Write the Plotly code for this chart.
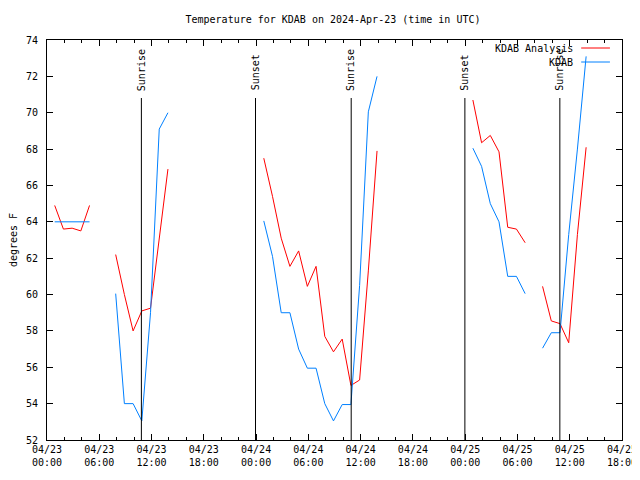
import plotly.graph_objects as go

# ---- data ----
times = [
    "2024-04-23 00:53", "2024-04-23 01:53", "2024-04-23 02:53", "2024-04-23 03:53", "2024-04-23 04:53",
    "2024-04-23 05:53",
    "2024-04-23 07:53", "2024-04-23 08:53", "2024-04-23 09:53", "2024-04-23 10:53", "2024-04-23 11:53",
    "2024-04-23 12:53", "2024-04-23 13:53",
    "2024-04-23 18:00",
    "2024-04-24 00:53", "2024-04-24 01:53", "2024-04-24 02:53", "2024-04-24 03:53", "2024-04-24 04:53",
    "2024-04-24 05:53", "2024-04-24 06:53", "2024-04-24 07:53", "2024-04-24 08:53", "2024-04-24 09:53",
    "2024-04-24 10:53", "2024-04-24 11:53", "2024-04-24 12:53", "2024-04-24 13:53",
    "2024-04-24 18:00",
    "2024-04-25 00:53", "2024-04-25 01:53", "2024-04-25 02:53", "2024-04-25 03:53", "2024-04-25 04:53",
    "2024-04-25 05:53", "2024-04-25 06:53",
    "2024-04-25 07:53",
    "2024-04-25 08:53", "2024-04-25 09:53", "2024-04-25 10:53", "2024-04-25 11:53", "2024-04-25 12:53",
    "2024-04-25 13:53",
]

analysis_f = [
    64.9, 63.6, 63.65, 63.5, 64.9,
    None,
    62.2, 60.0, 58.0, 59.1, 59.25, 63.0, 66.9,
    None,
    67.5, 65.4, 63.1, 61.55, 62.4, 60.45, 61.55, 57.7, 56.85, 57.55, 55.0, 55.3, 61.3, 67.9,
    None,
    70.7, 68.35, 68.75, 67.85, 63.7, 63.6, 62.85,
    None,
    60.45, 58.55, 58.4, 57.35, 63.3, 68.1,
]

observed_f = [
    64.0, 64.0, 64.0, 64.0, 64.0,
    None,
    60.05, 54.0, 54.0, 53.05, 59.0, 69.1, 70.0,
    None,
    64.05, 62.1, 59.0, 59.0, 57.0, 55.95, 55.95, 54.0, 53.05, 53.95, 53.95, 60.5, 70.05, 72.0,
    None,
    68.05, 67.05, 65.0, 64.0, 61.0, 61.0, 60.05,
    None,
    57.05, 57.9, 57.9, 63.3, 68.0, 73.1,
]

series_names = ["KDAB Analysis", "KDAB"]
series_colors = ["#ff0000", "#0080ff"]

sun_times = ["2024-04-23 10:50", "2024-04-23 23:56", "2024-04-24 10:55",
             "2024-04-24 23:58", "2024-04-25 10:52"]
sun_labels = ["Sunrise", "Sunset", "Sunrise", "Sunset", "Sunrise"]

x_range = ["2024-04-23 00:00", "2024-04-25 18:00"]
y_range = [52, 74]

FONT = "DejaVu Sans Mono"

# page body adds ~8px offset; margins compensate so the plot box lands at 47..622 x 40..440
fig = go.Figure()
for name, vals, col in zip(series_names, [analysis_f, observed_f], series_colors):
    fig.add_trace(go.Scatter(x=times, y=vals, mode="lines", name=name,
                             line=dict(color=col, width=1), connectgaps=False,
                             showlegend=False))

for t, lab in zip(sun_times, sun_labels):
    fig.add_shape(type="line", xref="x", yref="paper", x0=t, x1=t, y0=0, y1=0.855,
                  line=dict(color="black", width=1))
    fig.add_annotation(x=t, y=0.868, xref="x", yref="paper", text=lab, showarrow=False,
                       textangle=-90, xanchor="center", yanchor="bottom",
                       font=dict(family=FONT, size=10, color="black"))

# gnuplot-style key: text right-aligned, line sample to its right
key_rows_y = [0.98, 0.945]
for name, col, ky in zip(series_names, series_colors, key_rows_y):
    fig.add_annotation(x=0.918, y=ky, xref="paper", yref="paper", text=name,
                       showarrow=False, xanchor="right", yanchor="middle",
                       font=dict(family=FONT, size=10, color="black"))
    fig.add_shape(type="line", xref="paper", yref="paper", x0=0.929, x1=0.979,
                  y0=ky, y1=ky, line=dict(color=col, width=1))

fig.update_layout(
    width=640, height=480,
    margin=dict(l=39, r=26, t=32, b=48, autoexpand=False),
    plot_bgcolor="white", paper_bgcolor="white",
    font=dict(family=FONT, size=10, color="black"),
    title=dict(text="Temperature for KDAB on 2024-Apr-23 (time in UTC)",
               x=325 / 640, xanchor="center", y=1 - 11 / 480, yanchor="middle",
               font=dict(family=FONT, size=10, color="black"), automargin=False),
    showlegend=False,
)

fig.update_xaxes(
    type="date", range=x_range, dtick=6 * 3600 * 1000, tick0="2024-04-23 00:00",
    tickformat="%m/%d<br>%H:%M", ticks="inside", ticklen=6, tickcolor="black",
    showline=True, linecolor="black", linewidth=1, mirror="ticks", showgrid=False,
    zeroline=False, automargin=False,
    minor=dict(dtick=2 * 3600 * 1000, tick0="2024-04-23 00:00", ticks="inside",
               ticklen=3, tickcolor="black", showgrid=False),
    tickfont=dict(family=FONT, size=10),
)
fig.update_yaxes(
    range=y_range, dtick=2, ticks="inside", ticklen=6, tickcolor="black",
    showline=True, linecolor="black", linewidth=1, mirror="ticks", showgrid=False,
    zeroline=False, ticklabelstandoff=6, automargin=False,
    title=dict(text="degrees F", standoff=10, font=dict(family=FONT, size=10)),
    tickfont=dict(family=FONT, size=10),
)

fig.write_html("out.html")
